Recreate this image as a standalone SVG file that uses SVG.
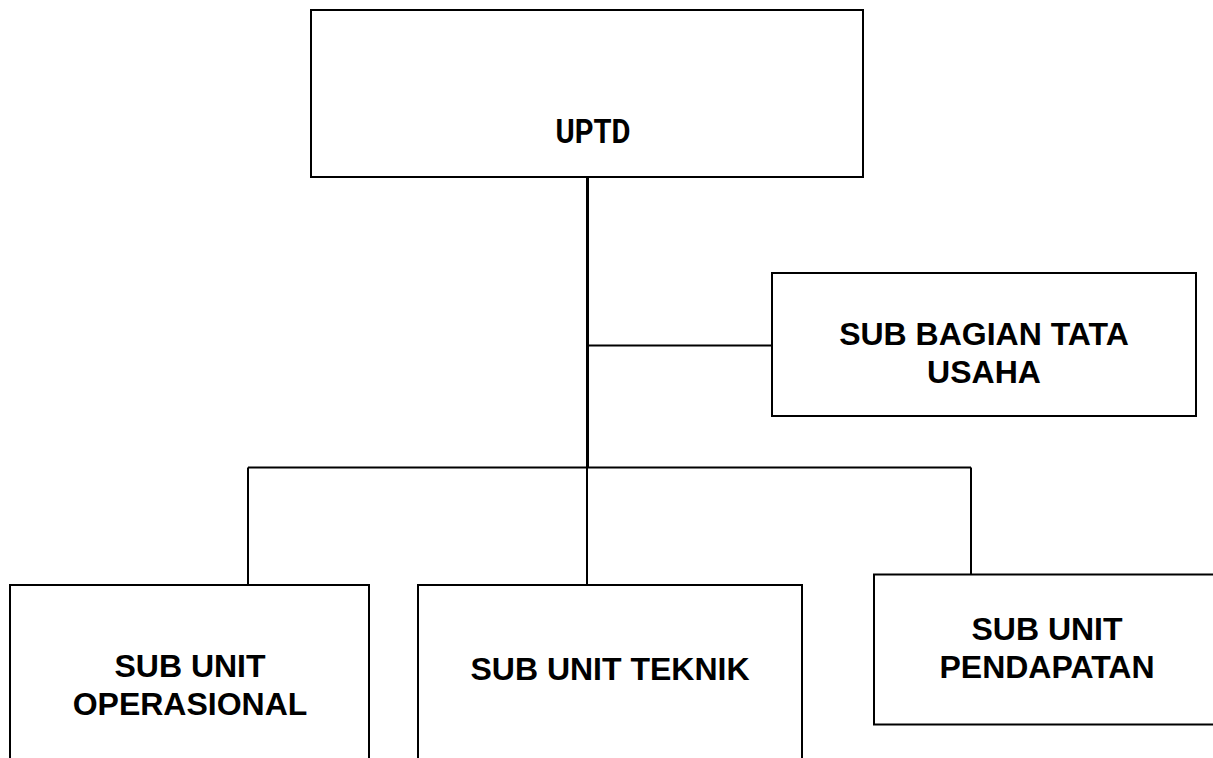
<svg xmlns="http://www.w3.org/2000/svg" width="1213" height="758" viewBox="0 0 1213 758">
<style>
.box{fill:#fff;stroke:#000;stroke-width:2}
.t{font-family:"Liberation Sans",Arial,sans-serif;font-weight:bold;font-size:32px;fill:#000;text-anchor:middle}
.u{font-family:Roboto,"Liberation Sans",sans-serif;font-weight:bold;font-size:34px;fill:#000;text-anchor:middle}
.c{stroke:#000;stroke-width:2;fill:none}
</style>
<rect width="1213" height="758" fill="#fff"/>
<g id="connectors">
<line class="c" x1="587.5" y1="177" x2="587.5" y2="468" style="stroke-width:3"/>
<line class="c" x1="587.5" y1="345.5" x2="772" y2="345.5"/>
<line class="c" x1="248" y1="467.5" x2="971" y2="467.5"/>
<line class="c" x1="248" y1="467.5" x2="248" y2="585"/>
<line class="c" x1="587" y1="467.5" x2="587" y2="585"/>
<line class="c" x1="971" y1="467.5" x2="971" y2="575"/>
</g>
<g id="uptd">
<rect class="box" x="311" y="10" width="552" height="167"/>
<text class="u" x="593" y="143" textLength="75" lengthAdjust="spacingAndGlyphs">UPTD</text>
</g>
<g id="tata-usaha">
<rect class="box" x="772" y="273" width="424" height="143"/>
<text class="t" x="984" y="344.5">SUB BAGIAN TATA</text>
<text class="t" x="984" y="382.5">USAHA</text>
</g>
<g id="operasional">
<rect class="box" x="10" y="585" width="359" height="200"/>
<text class="t" x="190" y="676.5">SUB UNIT</text>
<text class="t" x="190" y="714.5">OPERASIONAL</text>
</g>
<g id="teknik">
<rect class="box" x="418" y="585" width="384" height="200"/>
<text class="t" x="610" y="679.5">SUB UNIT TEKNIK</text>
</g>
<g id="pendapatan">
<rect class="box" x="874" y="574.5" width="346" height="150"/>
<text class="t" x="1047" y="639.5">SUB UNIT</text>
<text class="t" x="1047" y="677.5">PENDAPATAN</text>
</g>
</svg>
